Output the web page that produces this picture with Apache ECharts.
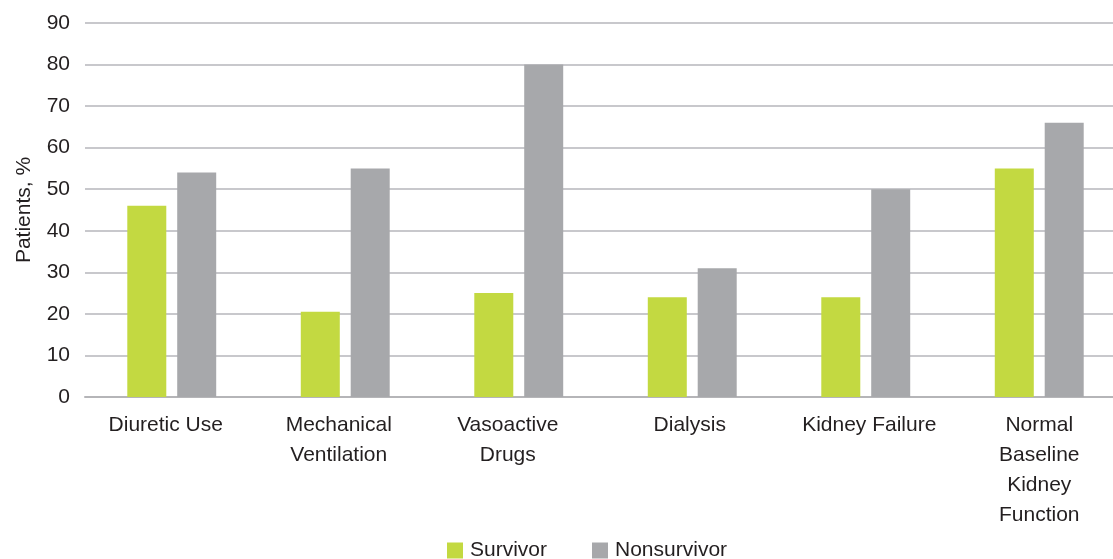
<!DOCTYPE html>
<html>
<head>
<meta charset="utf-8">
<script src="https://cdn.jsdelivr.net/npm/echarts@6/dist/echarts.min.js"></script>
<style>
  html, body { margin: 0; padding: 0; background: #fff; overflow: hidden; }
  /* 图表比窗口略宽，右侧被裁掉，与原图一致 */
  #chart { width: 1126px; height: 559px; }
</style>
</head>
<body>
<div id="chart"></div>
<script>
// 数据
const categories = ['Diuretic Use', 'Mechanical\nVentilation', 'Vasoactive\nDrugs', 'Dialysis', 'Kidney Failure', 'Normal\nBaseline\nKidney\nFunction'];
const survivor = [46, 20.5, 25, 24, 24, 55];
const nonsurvivor = [54, 55, 80, 31, 50, 66];
const yTicks = [0, 90, 10]; // min, max, interval

// 原图里每个类目标签相对柱子中心的水平偏移(px)
const labelShift = [-6, -6.5, -11, -2.5, 3.5, 0];

const green = '#c3d941';
const gray = '#a7a8ab';
const textColor = '#231f20';

const chart = echarts.init(document.getElementById('chart'));

const xData = categories.map((name, i) => {
  const s = labelShift[i] * 2;
  return {
    value: name,
    textStyle: {padding: s < 0 ? [0, -s, 0, 0] : [0, 0, 0, s]}
  };
});

const option = {
  animation: false,
  textStyle: {fontFamily: 'Liberation Sans, Arial, sans-serif'},
  legend: {
    left: 447,
    top: 540,
    padding: 0,
    itemWidth: 16,
    itemHeight: 16,
    itemGap: 45,
    icon: 'rect',
    textStyle: {fontSize: 21, color: textColor, padding: [0, 0, 0, 2]},
    data: ['Survivor', 'Nonsurvivor']
  },
  grid: {
    left: 85,
    top: 23,
    right: 0,
    height: 374
  },
  xAxis: {
    type: 'category',
    data: xData,
    axisLine: {lineStyle: {color: '#b5b5b8', width: 2}},
    axisTick: {show: false},
    axisLabel: {
      interval: 0,
      fontSize: 21,
      color: textColor,
      lineHeight: 30,
      margin: 13
    }
  },
  yAxis: {
    type: 'value',
    min: yTicks[0],
    max: yTicks[1],
    interval: yTicks[2],
    name: 'Patients, %',
    nameLocation: 'middle',
    nameGap: 50,
    nameTextStyle: {fontSize: 21, color: textColor},
    axisLine: {show: false},
    axisTick: {show: false},
    axisLabel: {fontSize: 21, color: textColor, margin: 15},
    splitLine: {lineStyle: {color: '#c8c8cc', width: 2}}
  },
  series: [
    {
      name: 'Survivor',
      type: 'bar',
      data: survivor,
      barWidth: 39,
      barGap: '28%',
      itemStyle: {color: green}
    },
    {
      name: 'Nonsurvivor',
      type: 'bar',
      data: nonsurvivor,
      barWidth: 39,
      barGap: '28%',
      itemStyle: {color: gray}
    }
  ]
};

chart.setOption(option);
</script>
</body>
</html>
